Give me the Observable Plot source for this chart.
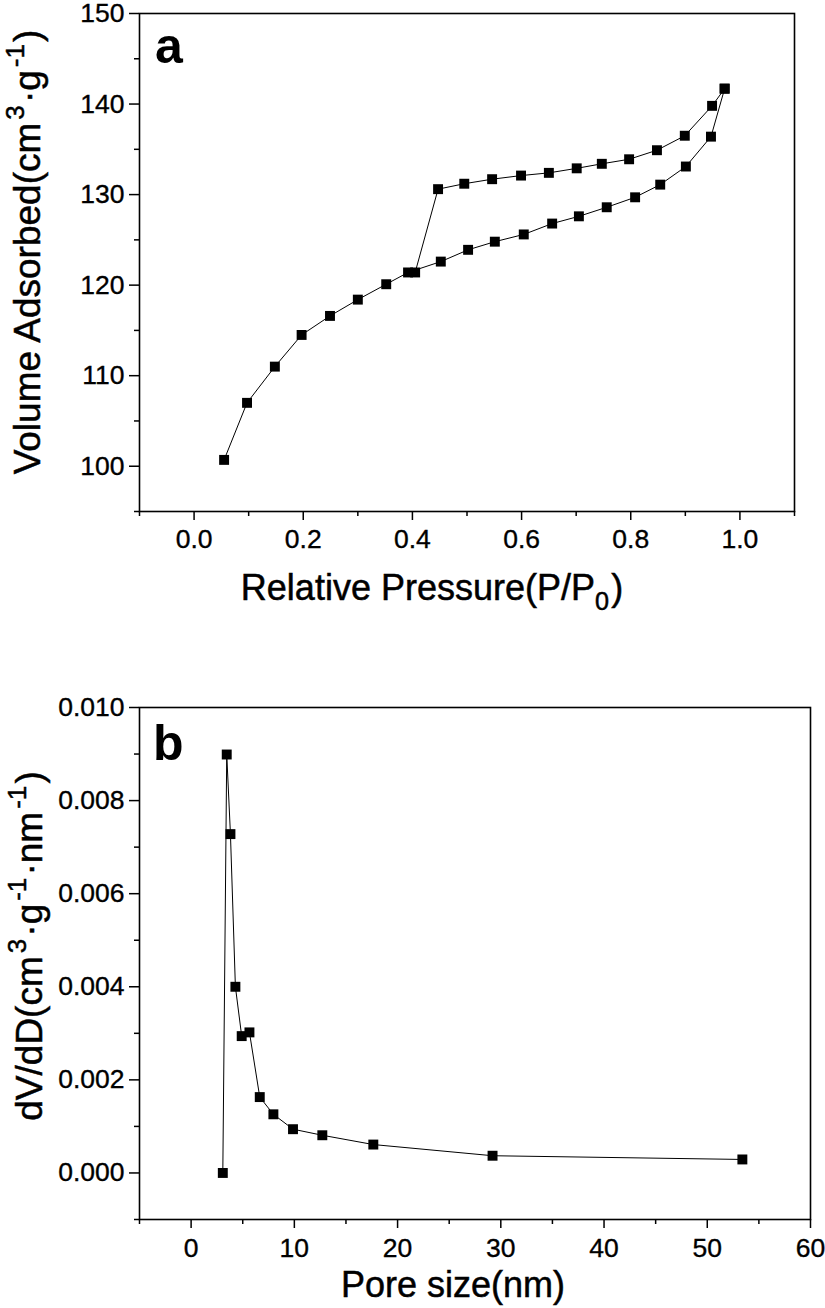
<!DOCTYPE html>
<html>
<head>
<meta charset="utf-8">
<script src="https://cdn.jsdelivr.net/npm/d3@7"></script>
<script src="https://cdn.jsdelivr.net/npm/@observablehq/plot@0.6"></script>
<style>
  html, body { margin: 0; padding: 0; background: #fff; }
  #wrap { width: 825px; }
  #wrap svg { display: block; }
  .ttl { font-family: "Liberation Sans", Arial, sans-serif; fill: #000; stroke: #000; stroke-width: 0.5px; }
  g[aria-label$="tick label"] text { stroke: #000; stroke-width: 0.35px; }
</style>
</head>
<body>
<div id="wrap"></div>
<script>
// ---- Panel a: N2 adsorption/desorption isotherm ----
const adsP = [0.055, 0.097, 0.148, 0.197, 0.249, 0.300, 0.352, 0.392, 0.452, 0.502, 0.551, 0.604, 0.656, 0.705, 0.756, 0.808, 0.854, 0.901, 0.947, 0.972];
const adsV = [100.7, 107.0, 111.0, 114.5, 116.6, 118.4, 120.1, 121.4, 122.6, 123.9, 124.8, 125.6, 126.8, 127.6, 128.6, 129.7, 131.1, 133.1, 136.4, 141.7];
const desP = [0.972, 0.949, 0.899, 0.848, 0.797, 0.747, 0.701, 0.650, 0.599, 0.546, 0.495, 0.447, 0.405];
const desV = [141.7, 139.8, 136.5, 134.9, 133.9, 133.4, 132.9, 132.4, 132.1, 131.7, 131.2, 130.6, 121.4];
const aXMajor = [0, 0.2, 0.4, 0.6, 0.8, 1.0];
const aXMinor = [-0.1, 0.1, 0.3, 0.5, 0.7, 0.9, 1.1];
const aYMajor = [100, 110, 120, 130, 140, 150];
const aYMinor = [95, 105, 115, 125, 135, 145];

// ---- Panel b: pore size distribution ----
const poreD = [3.07, 3.45, 3.81, 4.29, 4.90, 5.65, 6.65, 7.97, 9.87, 12.71, 17.65, 29.2, 53.4];
const dVdD  = [0, 0.00899, 0.00728, 0.0040, 0.00294, 0.00302, 0.00163, 0.00126, 0.00094, 0.00081, 0.00061, 0.00037, 0.00029];
const bXMajor = [0, 10, 20, 30, 40, 50, 60];
const bXMinor = [-5, 5, 15, 25, 35, 45, 55];
const bYMajor = [0, 0.002, 0.004, 0.006, 0.008, 0.010];
const bYMinor = [-0.001, 0.001, 0.003, 0.005, 0.007, 0.009];

const FONT = "Liberation Sans, Arial, sans-serif";
const TICK = 26.5;

const adsData = adsP.map((p, i) => ({p, v: adsV[i], branch: "ads"}));
const desData = desP.map((p, i) => ({p, v: desV[i], branch: "des"}));
const poreData = poreD.map((d, i) => ({d, v: dVdD[i]}));

function axes(xMaj, xMin, yMaj, yMin, xFmt, yFmt, xPad) {
  return [
    Plot.axisX({ticks: xMin, tickSize: 5, tickFormat: () => "", label: null, strokeWidth: 1.5}),
    Plot.axisX({ticks: xMaj, tickSize: 9, tickPadding: xPad, tickFormat: xFmt, label: null, strokeWidth: 1.5, fontSize: TICK, fontFamily: FONT, fill: "#000"}),
    Plot.axisY({ticks: yMin, tickSize: 5, tickFormat: () => "", label: null, strokeWidth: 1.5}),
    Plot.axisY({ticks: yMaj, tickSize: 10, tickPadding: 5, tickFormat: yFmt, label: null, strokeWidth: 1.5, fontSize: TICK, fontFamily: FONT, fill: "#000"}),
    Plot.frame({stroke: "#000", strokeWidth: 1.6})
  ];
}

const plotA = Plot.plot({
  width: 825, height: 650,
  marginLeft: 139, marginRight: 31, marginTop: 13, marginBottom: 139,
  style: {fontFamily: FONT, color: "#000", background: "#fff"},
  x: {domain: [-0.1, 1.1]},
  y: {domain: [95, 150]},
  marks: [
    ...axes(aXMajor, aXMinor, aYMajor, aYMinor, d3.format(".1f"), d3.format("d"), 9),
    Plot.line([...adsData, ...desData], {x: "p", y: "v", z: "branch", stroke: "#000", strokeWidth: 1}),
    Plot.dot([...adsData, ...desData], {x: "p", y: "v", symbol: "square", r: 5.6, fill: "#000", stroke: "none"})
  ]
});

const plotB = Plot.plot({
  width: 825, height: 658,
  marginLeft: 139, marginRight: 15, marginTop: 57, marginBottom: 89,
  style: {fontFamily: FONT, color: "#000", background: "#fff"},
  x: {domain: [-5, 60]},
  y: {domain: [-0.001, 0.010]},
  marks: [
    ...axes(bXMajor, bXMinor, bYMajor, bYMinor, d3.format("d"), d3.format(".3f"), 10),
    Plot.line(poreData, {x: "d", y: "v", stroke: "#000", strokeWidth: 1}),
    Plot.dot(poreData, {x: "d", y: "v", symbol: "square", r: 5.6, fill: "#000", stroke: "none"})
  ]
});

const wrap = document.getElementById("wrap");
wrap.appendChild(plotA);
wrap.appendChild(plotB);

function addText(svg, parts, x, y, size, rotate, anchor) {
  const t = d3.select(svg).append("text")
    .attr("class", "ttl")
    .attr("font-size", size)
    .attr("text-anchor", anchor || "middle")
    .attr("transform", `translate(${x},${y})` + (rotate ? ` rotate(${rotate})` : ""));
  for (const p of parts) {
    const s = t.append("tspan").text(p.t);
    if (p.sup) s.attr("font-size", size * 0.7).attr("dy", -size * 0.42).attr("dx", size * 0.08);
    if (p.sub) s.attr("font-size", size * 0.7).attr("dy", size * 0.28);
    if (p.back) s.attr("dy", p.back).attr("dx", size * 0.06);
  }
  return t;
}

// Panel letters
d3.select(plotA).append("text").attr("x", 155).attr("y", 63).attr("text-anchor", "start").attr("font-size", 50).attr("font-weight", "bold").attr("font-family", FONT).attr("fill", "#000").text("a");
d3.select(plotB).append("text").attr("x", 153).attr("y", 110).attr("text-anchor", "start").attr("font-size", 50).attr("font-weight", "bold").attr("font-family", FONT).attr("fill", "#000").text("b");

// Axis titles, panel a
const S = 37;
addText(plotA, [
  {t: "Volume Adsorbed(cm"}, {t: "3", sup: true}, {t: "·g", back: S * 0.42},
  {t: "-1", sup: true}, {t: ")", back: S * 0.42}
], 40, 252, S, -90);
addText(plotA, [
  {t: "Relative Pressure(P/P"}, {t: "0", sub: true}, {t: ")", back: -S * 0.28}
], 432, 600, 36, 0);

// Axis titles, panel b
addText(plotB, [
  {t: "dV/dD(cm"}, {t: "3", sup: true}, {t: "·g", back: S * 0.42},
  {t: "-1", sup: true}, {t: "·nm", back: S * 0.42}, {t: "-1", sup: true}, {t: ")", back: S * 0.42}
], 42, 296, S, -90);
addText(plotB, [{t: "Pore size(nm)"}], 453, 647, 36, 0);
</script>
</body>
</html>
